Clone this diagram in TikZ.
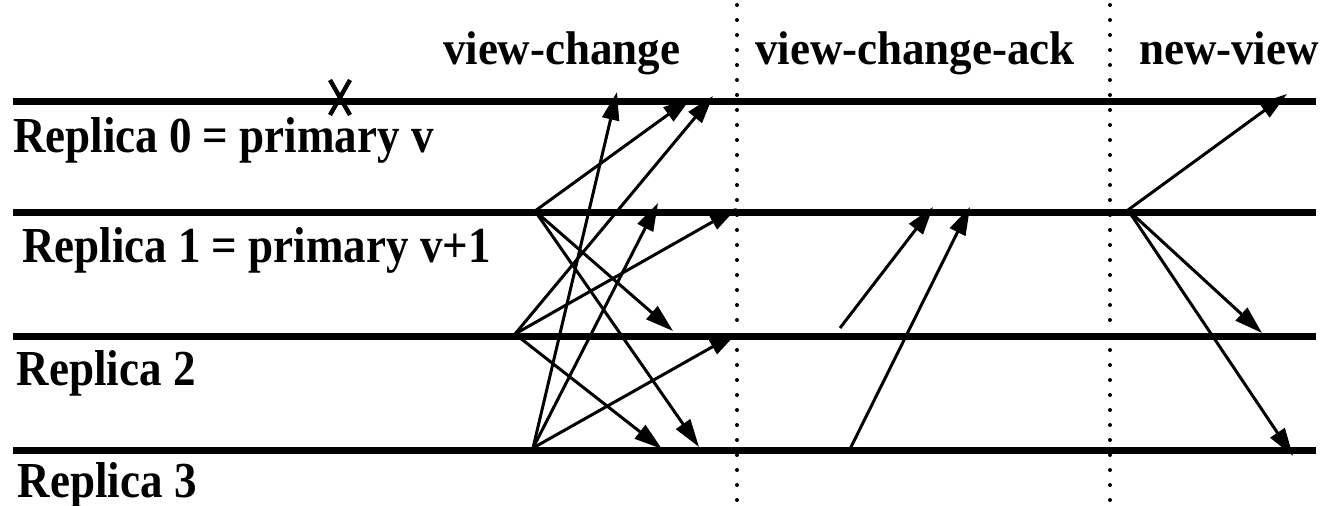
\documentclass[tikz,border=0pt]{standalone}
\usepackage{fontspec}
\setmainfont{Liberation Serif}
\usetikzlibrary{arrows.meta}
\begin{document}
\begin{tikzpicture}[x=0.5pt,y=-0.5pt,
  lifeline/.style={line width=3.5pt},
  msg/.style={line width=1.5pt,-{Triangle[length=14pt,width=8.5pt]}},
  phase/.style={line width=2pt,line cap=round,dash pattern=on 0pt off 7.5pt},
  lbl/.style={anchor=base west,inner sep=0pt,outer sep=0pt,font=\fontsize{22.5}{27}\selectfont\bfseries},
  cross/.style={line width=2.2pt}
]
\useasboundingbox (0,0) rectangle (1322,506);
% lifelines
\coordinate (l0a) at (13,102);  \coordinate (l0b) at (1316,102);
\coordinate (l1a) at (13,213);  \coordinate (l1b) at (1316,213);
\coordinate (l2a) at (13,337);  \coordinate (l2b) at (1316,337);
\coordinate (l3a) at (13,451);  \coordinate (l3b) at (1316,451);
\draw[lifeline] (l0a) -- (l0b);
\draw[lifeline] (l1a) -- (l1b);
\draw[lifeline] (l2a) -- (l2b);
\draw[lifeline] (l3a) -- (l3b);
% phase separators
\coordinate (d1a) at (737,5); \coordinate (d1b) at (737,502);
\coordinate (d2a) at (1110,5); \coordinate (d2b) at (1110,502);
\draw[phase] (d1a) -- (d1b);
\draw[phase] (d2a) -- (d2b);
% crash mark
\coordinate (xa) at (330,80); \coordinate (xb) at (350,115);
\coordinate (xc) at (350,80); \coordinate (xd) at (330,115);
\draw[cross] (xa) -- (xb);
\draw[cross] (xc) -- (xd);
% labels
\node[lbl] (r0) at (13,153) {\scalebox{1}[1.12]{Replica 0 = primary v}};
\node[lbl] (r1) at (22,263) {\scalebox{1}[1.12]{Replica 1 = primary v+1}};
\node[lbl] (r2) at (17,386) {\scalebox{1}[1.12]{Replica 2}};
\node[lbl] (r3) at (18,498) {\scalebox{1}[1.12]{Replica 3}};
\node[lbl] (h1) at (443,65) {\scalebox{1}[1.05]{view-change}};
\node[lbl] (h2) at (755,65) {\scalebox{1}[1.05]{view-change-ack}};
\node[lbl] (h3) at (1139,65) {\scalebox{1}[1.05]{new-view}};
% view-change messages
\coordinate (s1) at (535,211);
\coordinate (s2) at (515,334);
\coordinate (s3) at (533,448);
\coordinate (t10) at (691,98);
\coordinate (t12) at (673,331);
\coordinate (t13) at (699,447);
\coordinate (t20) at (713,96);
\coordinate (t21) at (737,208);
\coordinate (t23) at (662,449);
\coordinate (t30) at (617,92);
\coordinate (t31) at (658,203);
\coordinate (t32) at (737,333);
\draw[msg] (s1) -- (t10);
\draw[msg] (s1) -- (t12);
\draw[msg] (s1) -- (t13);
\draw[msg] (s2) -- (t20);
\draw[msg] (s2) -- (t21);
\draw[msg] (s2) -- (t23);
\draw[msg] (s3) -- (t30);
\draw[msg] (s3) -- (t31);
\draw[msg] (s3) -- (t32);
% view-change-ack messages
\coordinate (a2) at (840,328);
\coordinate (a3) at (850,449);
\coordinate (b1) at (933,207);
\coordinate (b2) at (970,207);
\draw[msg] (a2) -- (b1);
\draw[msg] (a3) -- (b2);
% new-view messages
\coordinate (n1) at (1128,210);
\coordinate (m0) at (1287,94);
\coordinate (m2) at (1262,333);
\coordinate (m3) at (1293,456);
\draw[msg] (n1) -- (m0);
\draw[msg] (n1) -- (m2);
\draw[msg] (n1) -- (m3);
\end{tikzpicture}
\end{document}
